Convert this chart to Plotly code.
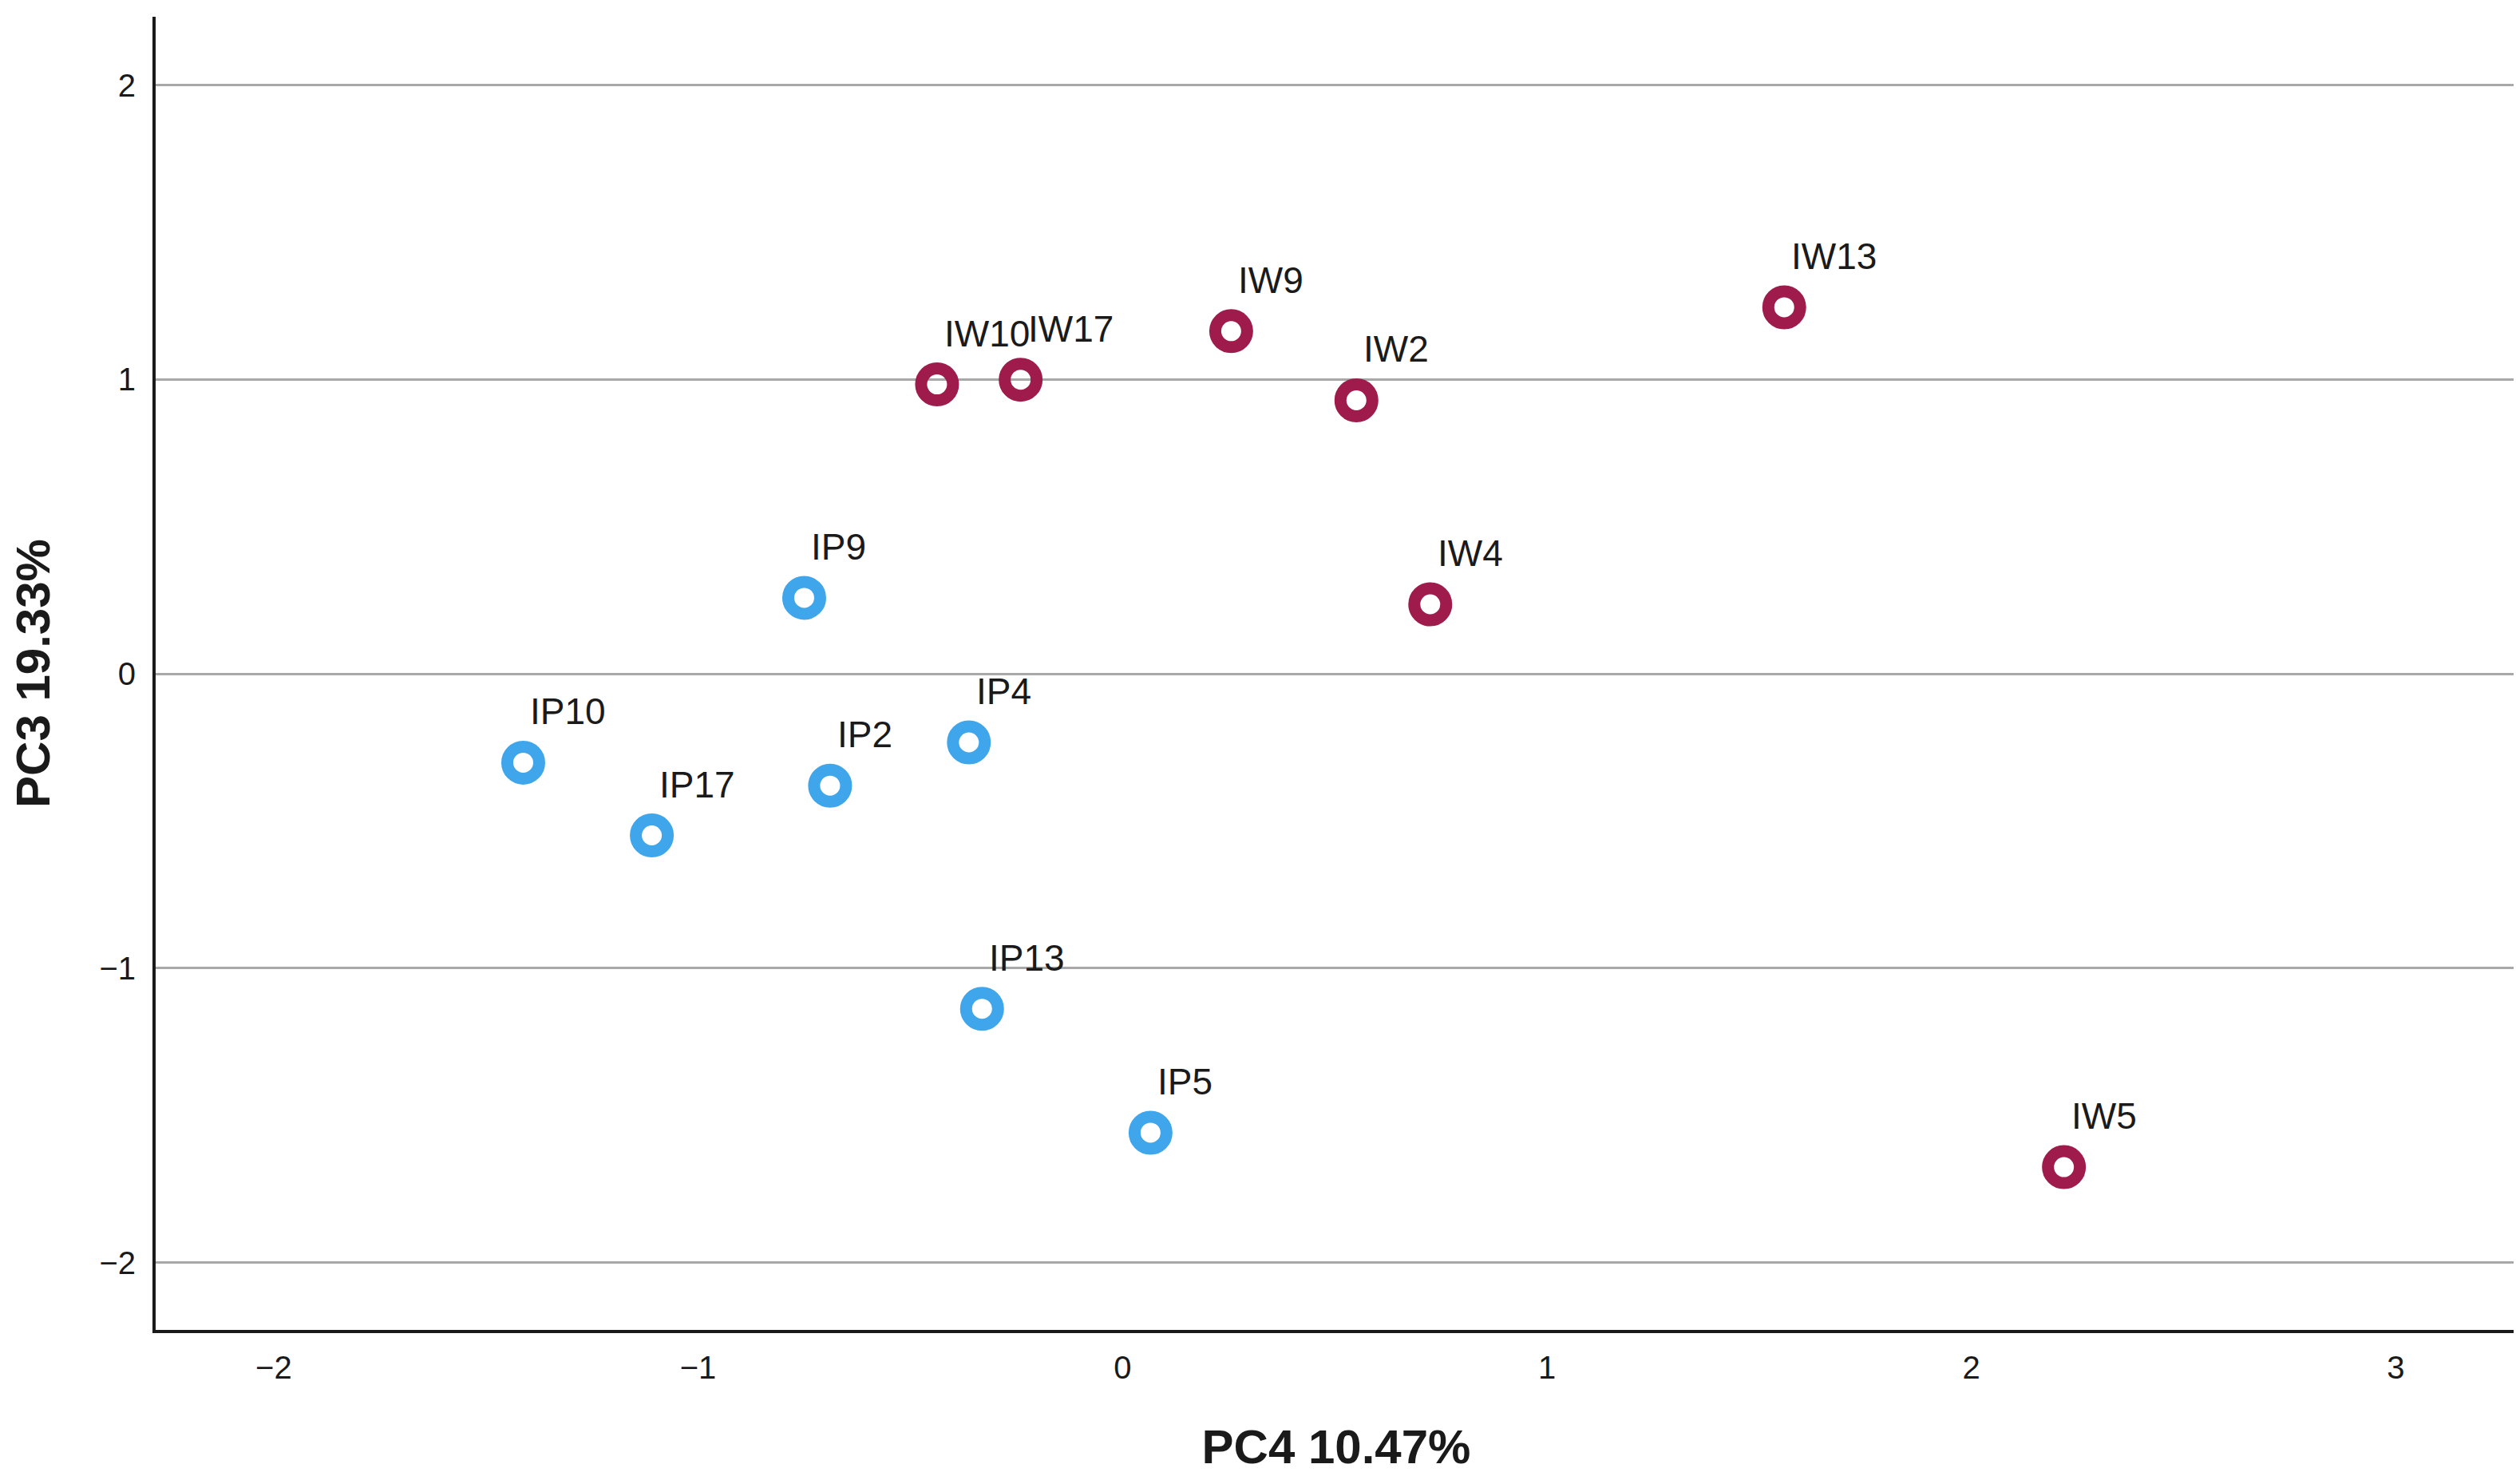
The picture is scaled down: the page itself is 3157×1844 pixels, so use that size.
import plotly.graph_objects as go

# Data
ip_labels = ["IP9", "IP10", "IP17", "IP2", "IP4", "IP13", "IP5"]
ip_pc4 = [-0.750, -1.412, -1.109, -0.689, -0.362, -0.331, 0.066]
ip_pc3 = [0.258, -0.302, -0.549, -0.380, -0.233, -1.138, -1.559]

iw_labels = ["IW10", "IW17", "IW9", "IW2", "IW13", "IW4", "IW5"]
iw_pc4 = [-0.437, -0.240, 0.256, 0.551, 1.559, 0.725, 2.218]
iw_pc3 = [0.983, 0.999, 1.164, 0.929, 1.245, 0.236, -1.676]

x_ticks = [-2, -1, 0, 1, 2, 3]
y_ticks = [-2, -1, 0, 1, 2]

BLUE = "#3FA6EC"
MAROON = "#9E1B4C"
FONT = "Liberation Sans, Arial, sans-serif"

fig = go.Figure()
for xs, ys, col, name in [(ip_pc4, ip_pc3, BLUE, "IP"), (iw_pc4, iw_pc3, MAROON, "IW")]:
    fig.add_trace(go.Scatter(
        x=xs, y=ys, mode="markers", name=name,
        marker=dict(symbol="circle-open", size=40, color=col,
                    line=dict(width=15, color=col)),
        hoverinfo="skip", showlegend=False,
    ))

for labels, xs, ys in [(ip_labels, ip_pc4, ip_pc3), (iw_labels, iw_pc4, iw_pc3)]:
    for t, x, y in zip(labels, xs, ys):
        fig.add_annotation(x=x, y=y, xref="x", yref="y", text=t, showarrow=False,
                           xanchor="left", yanchor="bottom", xshift=7, yshift=36,
                           font=dict(family=FONT, size=46, color="#1a1a1a"))

fig.update_layout(
    width=3157, height=1844,
    margin=dict(l=187, r=12, t=13, b=186, autoexpand=False),
    paper_bgcolor="white", plot_bgcolor="white",
    showlegend=False,
    font=dict(family=FONT, color="#1a1a1a"),
)
fig.update_xaxes(
    range=[-2.278, 3.285], tickvals=x_ticks, showgrid=False, zeroline=False,
    showline=True, linecolor="#1a1a1a", linewidth=4, ticks="",
    tickfont=dict(family=FONT, size=40, color="#1a1a1a"), ticklabelstandoff=9,
    title=dict(text="<b>PC4 10.47%</b>", font=dict(family=FONT, size=60, color="#1a1a1a"), standoff=58),
    automargin=False,
)
fig.update_yaxes(
    range=[-2.229, 2.232], tickvals=y_ticks, showgrid=True, gridcolor="#A8A8A8", gridwidth=3,
    zeroline=False, showline=True, linecolor="#1a1a1a", linewidth=4, ticks="",
    tickfont=dict(family=FONT, size=40, color="#1a1a1a"), ticklabelstandoff=13,
    title=dict(text="<b>PC3 19.33%</b>", font=dict(family=FONT, size=60, color="#1a1a1a"), standoff=74),
    automargin=False,
)

fig.write_html("out.html")
